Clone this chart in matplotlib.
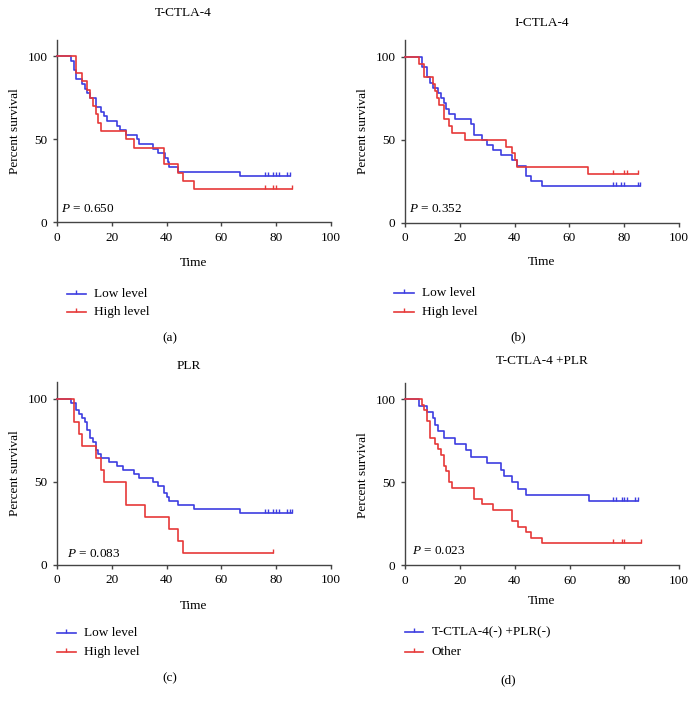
import numpy as np
import matplotlib
matplotlib.use("Agg")
import matplotlib.pyplot as plt
from matplotlib.path import Path
from matplotlib.lines import Line2D

plt.rcParams['font.family'] = ['Liberation Serif', 'DejaVu Serif']
plt.rcParams['mathtext.fontset'] = 'custom'
plt.rcParams['mathtext.rm'] = 'Liberation Serif'
plt.rcParams['mathtext.it'] = 'Liberation Serif:italic'

# ---------------- data ----------------
titles = ["T-CTLA-4", "I-CTLA-4", "PLR", "T-CTLA-4 +PLR"]
p_values = ["0.650", "0.352", "0.083", "0.023"]
sub_labels = ["(a)", "(b)", "(c)", "(d)"]
legend_labels = [["Low level", "High level"], ["Low level", "High level"],
                 ["Low level", "High level"], ["T-CTLA-4(-) +PLR(-)", "Other"]]

# panel a
a_blue_t = [0, 5, 6, 7, 9, 10, 11, 12, 14, 16, 17, 18, 22, 23, 25, 29, 30, 35, 37, 39.5, 40.5, 41, 44, 67]
a_blue_s = [100, 97.2, 91.7, 86.1, 83.3, 80.6, 77.8, 75, 69.4, 66.7, 63.9, 61.1, 58.3, 55.6, 52.8, 50, 47.2,
            44.4, 41.7, 38.9, 36.1, 33.3, 30.6, 27.8]
a_blue_end = 85
a_blue_cens = [76, 77, 79, 80, 81, 84, 85]
a_red_t = [0, 7, 9, 11, 12, 13, 14, 15, 16, 25, 28, 39, 44, 46, 50]
a_red_s = [100, 90, 85, 80, 75, 70, 65, 60, 55, 50, 45, 35, 30, 25, 20]
a_red_end = 86
a_red_cens = [76, 79, 80, 86]

# panel b
b_blue_t = [0, 6, 8, 9, 10, 12, 13, 14, 15, 16, 18, 24, 25, 28, 30, 32, 35, 39, 41, 44, 46, 50]
b_blue_s = [100, 93.75, 87.5, 84.4, 81.25, 78.1, 75, 71.9, 68.75, 65.6, 62.5, 59.4, 53.1, 50, 46.9, 43.75,
            40.6, 37.5, 34.4, 28.1, 25, 21.9]
b_blue_end = 86
b_blue_cens = [76, 77, 79, 80, 85, 86]
b_red_t = [0, 5, 7, 10, 11, 11.5, 12.5, 14, 16, 17, 22, 37, 39, 40, 41, 67]
b_red_s = [100, 95.8, 87.5, 83.3, 79.2, 75, 70.8, 62.5, 58.3, 54.2, 50, 45.8, 41.7, 37.5, 33.3, 29.2]
b_red_end = 85
b_red_cens = [76, 80, 81, 85]

# panel c
c_blue_t = [0, 5, 7, 8, 9, 10, 11, 12, 13, 14, 15, 16, 19, 22, 24, 28, 30, 35, 37, 39, 40, 41, 44, 50, 67]
c_blue_s = [100, 97.6, 92.9, 90.5, 88.1, 85.7, 81.0, 76.2, 73.8, 69.0, 66.7, 64.3, 61.9, 59.5, 57.1, 54.8,
            52.4, 50, 47.6, 42.9, 40.5, 38.1, 35.7, 33.3, 31.0]
c_blue_end = 86
c_blue_cens = [76, 77, 79, 80, 81, 84, 85, 86]
c_red_t = [0, 6, 8, 9, 14, 16, 17, 25, 32, 41, 44, 46]
c_red_s = [100, 85.7, 78.6, 71.4, 64.3, 57.1, 50, 35.7, 28.6, 21.4, 14.3, 7.1]
c_red_end = 79
c_red_cens = [79]

# panel d
d_blue_t = [0, 5, 8, 10, 11, 12, 14, 18, 22, 24, 30, 35, 36, 39, 41, 44, 67]
d_blue_s = [100, 96.2, 92.3, 88.5, 84.6, 80.8, 76.9, 73.1, 69.2, 65.4, 61.5, 57.7, 53.8, 50, 46.2, 42.3, 38.5]
d_blue_end = 85
d_blue_cens = [76, 77, 79, 80, 81, 84, 85]
d_red_t = [0, 6, 7, 8, 9, 11, 12, 13, 14, 15, 16, 17, 25, 28, 32, 39, 41, 44, 46, 50]
d_red_s = [100, 96.7, 93.3, 86.7, 76.7, 73.3, 70, 66.7, 60, 56.7, 50, 46.7, 40, 36.7, 33.3, 26.7, 23.3,
           20, 16.7, 13.3]
d_red_end = 86
d_red_cens = [76, 79, 80, 86]

panels = [
    ((a_blue_t, a_blue_s, a_blue_end, a_blue_cens), (a_red_t, a_red_s, a_red_end, a_red_cens)),
    ((b_blue_t, b_blue_s, b_blue_end, b_blue_cens), (b_red_t, b_red_s, b_red_end, b_red_cens)),
    ((c_blue_t, c_blue_s, c_blue_end, c_blue_cens), (c_red_t, c_red_s, c_red_end, c_red_cens)),
    ((d_blue_t, d_blue_s, d_blue_end, d_blue_cens), (d_red_t, d_red_s, d_red_end, d_red_cens)),
]

BLUE = '#3d3de0'
RED = '#e63838'
AXC = '#444444'
FS = 9.5

W, H = 696, 703
fig = plt.figure(figsize=(W / 100, H / 100), dpi=100)


def fx(px):
    return px / W


def fy(py):
    return 1 - py / H


tick_marker = Path([[0, 0], [0, 1]], [Path.MOVETO, Path.LINETO])

# axes pixel boxes: left, right, y(0), y(110)
boxes = [(57.3, 330.7, 222.3, 39.7), (405.3, 678.7, 222.7, 40.1),
         (57.3, 330.7, 564.7, 382.1), (405.3, 679.0, 565.3, 382.7)]
title_pos = [(183, 13.3), (542, 22.7), (188.3, 366), (542, 360.7)]
xlabel_pos = [(194, 263), (542, 261.7), (194, 605.7), (542, 601)]
ylabel_pos = [(15, 130.7), (363, 130.7), (15, 473.3), (363, 475)]
p_pos = [(61, 209.3), (408.7, 209.3), (66.7, 554.3), (412, 550.7)]
leg_pos = [(66.7, 85.7, 94, 294, 312.3), (394, 414, 421.7, 293.3, 311.7),
           (56.7, 76, 84, 633.3, 651.7), (405, 423.3, 431.7, 632.3, 651.7)]
sub_pos = [(170, 338.3), (518.3, 337.3), (170, 678.3), (508.3, 680)]

for i, (l, r, yb, yt) in enumerate(boxes):
    ax = fig.add_axes([fx(l), fy(yb), (r - l) / W, (yb - yt) / H])
    ax.set_xlim(0, 100)
    ax.set_ylim(0, 110)
    for sp in ['top', 'right']:
        ax.spines[sp].set_visible(False)
    for sp in ['left', 'bottom']:
        ax.spines[sp].set_color(AXC)
        ax.spines[sp].set_linewidth(1.0)
    ax.set_xticks([0, 20, 40, 60, 80, 100])
    ax.set_yticks([0, 50, 100])
    ax.tick_params(direction='out', length=3, width=1.0, color=AXC, labelsize=FS, pad=4)
    for (t, s, end, cens), col in zip(panels[i], [BLUE, RED]):
        tt = list(t) + [end]
        ss = list(s) + [s[-1]]
        ax.step(tt, ss, where='post', color=col, lw=1.2, clip_on=False, zorder=3)
        idx = np.searchsorted(np.array(t), np.array(cens), side='right') - 1
        cy = np.array(s)[idx]
        ax.plot(cens, cy, ls='none', marker=tick_marker, ms=6, mew=1.0, color=col, clip_on=False, zorder=3)
    fig.text(fx(title_pos[i][0]), fy(title_pos[i][1]), titles[i], ha='center', va='center', fontsize=FS)
    fig.text(fx(xlabel_pos[i][0]), fy(xlabel_pos[i][1]), "Time", ha='center', va='center', fontsize=FS)
    fig.text(fx(ylabel_pos[i][0]), fy(ylabel_pos[i][1]), "Percent survival", ha='center', va='center',
             rotation=90, fontsize=FS)
    fig.text(fx(p_pos[i][0]), fy(p_pos[i][1]), r"$P$ = " + p_values[i], ha='left', va='center', fontsize=FS)
    x0, x1, xt, y1, y2 = leg_pos[i]
    for yy, col, lab in zip([y1, y2], [BLUE, RED], legend_labels[i]):
        fig.add_artist(Line2D([fx(x0), fx(x1)], [fy(yy), fy(yy)], color=col, lw=1.2, transform=fig.transFigure))
        fig.add_artist(Line2D([fx((x0 + x1) / 2)], [fy(yy)], ls='none', marker=tick_marker, ms=6, mew=1.0,
                              color=col, transform=fig.transFigure))
        fig.text(fx(xt), fy(yy), lab, ha='left', va='center', fontsize=FS)
    fig.text(fx(sub_pos[i][0]), fy(sub_pos[i][1]), sub_labels[i], ha='center', va='center', fontsize=FS)

fig.savefig("out.png", dpi=100, facecolor='white')
